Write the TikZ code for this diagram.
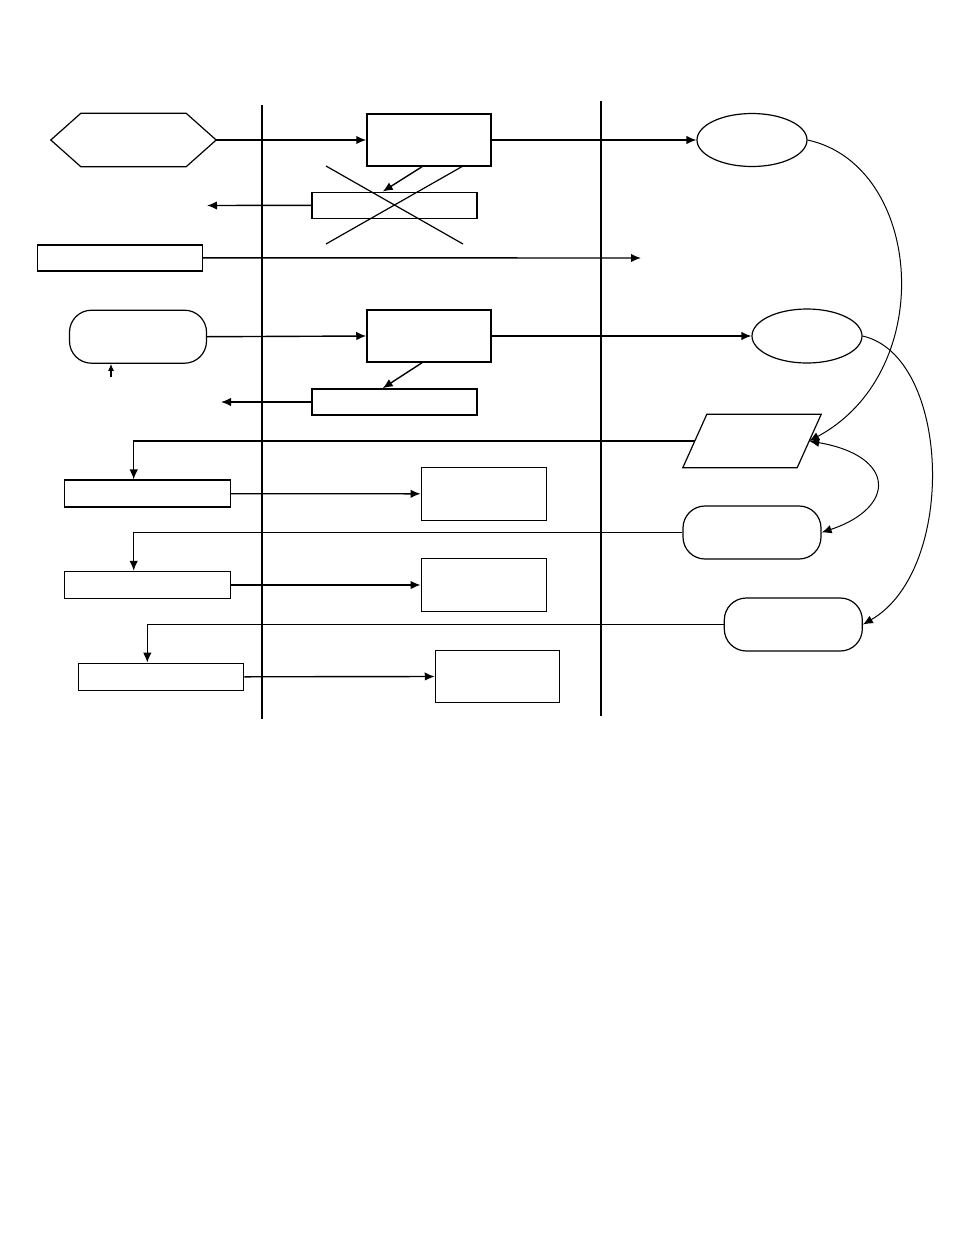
\documentclass[tikz,border=0pt]{standalone}
\usepackage{tikz}
\usetikzlibrary{shapes.geometric, arrows.meta}

\begin{document}
\begin{tikzpicture}[x=1pt, y=-1pt, >={Latex[length=10pt, width=8.5pt]},
        box/.style={draw, rectangle, line width=1.5pt, inner sep=0pt},
        term/.style={draw, rectangle, rounded corners=22pt, line width=1.2pt, inner sep=0pt, minimum width=138pt, minimum height=53pt},
        oval/.style={draw, ellipse, line width=1.2pt, inner sep=0pt, minimum width=110pt, minimum height=53pt},
        lane/.style={line width=2.2pt},
        link/.style={line width=1.4pt}]
    \useasboundingbox (0,0) rectangle (954,1235);

    % lanes
    \draw[lane] (262,105) -- (262,719);
    \draw[lane] (601,101) -- (601,716);

    % left column
    \node[minimum width=165pt, minimum height=53pt, inner sep=0pt] (1) at (133.5,140) {};
    \draw[line width=1.2pt] (1.west) -- ([xshift=30pt]1.north west) -- ([xshift=-30pt]1.north east) -- (1.east) -- ([xshift=-30pt]1.south east) -- ([xshift=30pt]1.south west) -- cycle;
    \node[box, minimum width=165pt, minimum height=26pt] (2) at (119.8,257.8) {};
    \node[term, minimum width=137pt] (3) at (138,336.7) {};
    \node[box, minimum width=166pt, minimum height=27pt] (4) at (147.3,493.7) {};
    \node[box, minimum width=166pt, minimum height=27pt] (5) at (147.3,585) {};
    \node[box, minimum width=165pt, minimum height=27pt] (6) at (161,676.8) {};

    % middle column
    \node[box, minimum width=124pt, minimum height=52pt] (7) at (429,140) {};
    \node[box, minimum width=165pt, minimum height=26pt] (8) at (394.7,205.3) {};
    \node[box, minimum width=124pt, minimum height=52pt] (9) at (429,336) {};
    \node[box, minimum width=165pt, minimum height=26pt] (10) at (394.7,402) {};
    \node[box, minimum width=125pt, minimum height=53pt] (11) at (483.8,493.8) {};
    \node[box, minimum width=125pt, minimum height=53pt] (12) at (483.8,585) {};
    \node[box, minimum width=124pt, minimum height=52pt] (13) at (497.5,676.5) {};
    \draw[line width=1.2pt] (326,166) -- (463,244);
    \draw[line width=1.2pt] (326,244) -- (463,166);

    % right column
    \node[oval] (14) at (752,140) {};
    \node[oval, minimum height=54pt] (15) at (807,336) {};
    \node[minimum width=138pt, minimum height=53pt, inner sep=0pt] (16) at (752,441) {};
    \draw[line width=1.2pt] ([xshift=24pt]16.north west) -- (16.north east) -- ([xshift=-24pt]16.south east) -- (16.south west) -- cycle;
    \coordinate (16l) at ([xshift=12pt]16.west);
    \coordinate (16r) at ([xshift=-12pt]16.east);
    \node[term] (17) at (752,532.5) {};
    \node[term] (18) at (793.3,624.5) {};

    % free ends
    \coordinate (a) at (207,205.5);
    \coordinate (b) at (641,258);
    \coordinate (c) at (221,402);
    \coordinate (d) at (111,377);

    \draw[link, ->] (1.east) -- (7.west);
    \draw[link, ->] (7.east) -- (14.west);
    \draw[link, ->] ([xshift=-7pt]7.south) -- ([xshift=-12pt]8.north);
    \draw[link, ->] (8.west) -- (a);
    \draw[link, ->] (2.east) -- (b);
    \draw[link, ->] (3.east) -- (9.west);
    \draw[link, ->] (9.east) -- (15.west);
    \draw[link, ->] ([xshift=-7pt]9.south) -- ([xshift=-12pt]10.north);
    \draw[link, ->] (10.west) -- (c);
    \draw[line width=1.2pt, -{Latex[length=7pt, width=6pt]}] (d) -- (d |- 3.south);
    \draw[link, ->] (16l) -| ([xshift=-13.6pt]4.north);
    \draw[link, ->] (17.west) -| ([xshift=-13.6pt]5.north);
    \draw[line width=1pt, ->] (18.west) -| ([xshift=-13.7pt]6.north);
    \draw[link, ->] (4.east) -- (11.west);
    \draw[link, ->] (5.east) -- (12.west);
    \draw[link, ->] (6.east) -- (13.west);

    \draw[line width=1pt, ->] (14.east) .. controls +(115,25) and +(130,-70) .. (16r);
    \draw[line width=1pt, ->] (15.east) .. controls +(88,20) and +(95,-55) .. (18.east);
    \draw[line width=1pt, <->] (16r) .. controls +(87,15) and +(75,-25) .. (17.east);
\end{tikzpicture}
\end{document}
